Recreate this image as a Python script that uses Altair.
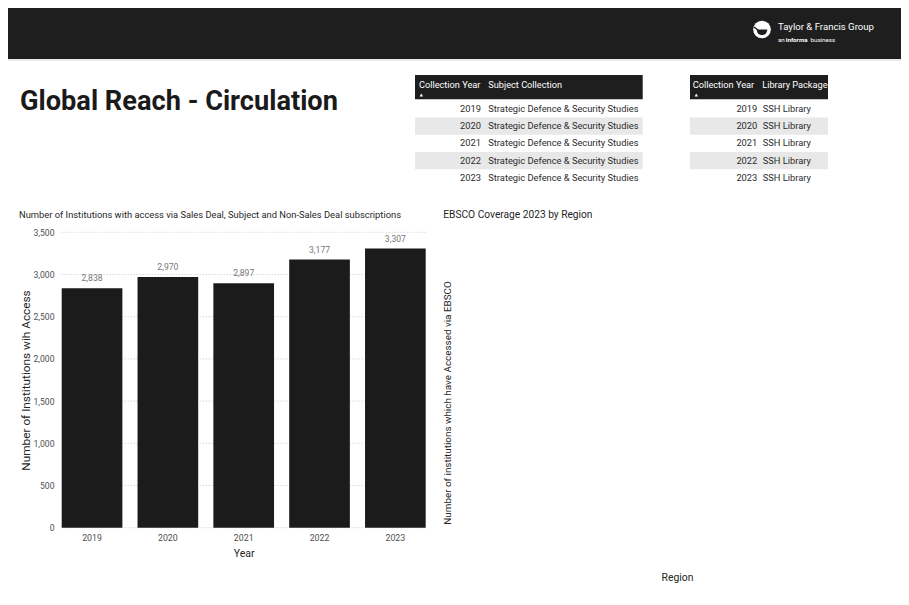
import altair as alt
import pandas as pd

# ---------------- data ----------------
years = [2019, 2020, 2021, 2022, 2023]
institutions = [2838, 2970, 2897, 3177, 3307]
y_ticks = [0, 500, 1000, 1500, 2000, 2500, 3000, 3500]
subject_collection = ["Strategic Defence & Security Studies"] * 5
library_package = ["SSH Library"] * 5

page_title = "Global Reach - Circulation"
brand_name = "Taylor & Francis Group"
brand_sub = ["an", "informa", "business"]
bar_title = "Number of Institutions with access via Sales Deal, Subject and Non-Sales Deal subscriptions"
bar_x_title = "Year"
bar_y_title = "Number of Institutions wih Access"
ebsco_title = "EBSCO Coverage 2023 by Region"
ebsco_y_title = "Number of institutions which have Accessed via EBSCO"
ebsco_x_title = "Region"
table1_cols = ["Collection Year", "Subject Collection"]
table2_cols = ["Collection Year", "Library Package"]

W, H = 893, 580
FONT = "Roboto, Liberation Sans, sans-serif"
DARK = "#1e1e1e"

one = pd.DataFrame({"_": [0]})


def label(text, x, y, size, color="#252525", weight="normal",
          align="left", baseline="middle", angle=0):
    return alt.Chart(one).mark_text(
        align=align, baseline=baseline, fontSize=size, font=FONT,
        fontWeight=weight, color=color, angle=angle
    ).encode(x=alt.value(x), y=alt.value(y), text=alt.value(text))


# ---------------- header band ----------------
header = alt.Chart(one).mark_rect(color=DARK).encode(
    x=alt.value(0), x2=alt.value(W), y=alt.value(0), y2=alt.value(51))
header_line = alt.Chart(one).mark_rule(color="#d4d4d4", strokeWidth=1).encode(
    x=alt.value(0), x2=alt.value(W), y=alt.value(52))
logo_circle = alt.Chart(one).mark_circle(color="white", size=314, opacity=1).encode(
    x=alt.value(754), y=alt.value(21.5))
logo_bowl = alt.Chart(one).mark_point(
    shape="M -0.75 -0.15 L 0.75 -0.15 C 0.7 0.5 0.35 0.65 0 0.65 C -0.35 0.65 -0.7 0.5 -0.75 -0.15 Z",
    filled=True, color=DARK, opacity=1, size=196).encode(x=alt.value(754), y=alt.value(22.5))
logo_spout = alt.Chart(one).mark_rule(color=DARK, strokeWidth=1.5).encode(
    x=alt.value(746), x2=alt.value(750), y=alt.value(19), y2=alt.value(22))

brand = label(brand_name, 770, 22, 9.6, color="white", baseline="alphabetic")
brand_a = label(brand_sub[0], 770, 33.5, 6.2, color="white", baseline="alphabetic")
brand_b = label(brand_sub[1], 777.8, 33.5, 6.2, color="white", weight="bold", baseline="alphabetic")
brand_c = label(brand_sub[2], 802.5, 33.5, 6.2, color="white", baseline="alphabetic")

title = label(page_title, 12, 102, 27.2, color="#1a1a1a", weight="bold", baseline="alphabetic")

# ---------------- tables ----------------
tbl = pd.DataFrame({
    "Collection Year": years,
    "Subject Collection": subject_collection,
    "Library Package": library_package,
})
row_y = alt.Y("Collection Year:O",
              scale=alt.Scale(domain=years, range=[92.2, 178.4], paddingInner=0, paddingOuter=0),
              axis=None)


def stripes(x0, x1):
    return alt.Chart(tbl).mark_rect(color="#e8e8e8").encode(
        x=alt.value(x0), x2=alt.value(x1), y=row_y
    ).transform_filter("datum['Collection Year'] % 2 == 0")


def col_text(field, x, align):
    return alt.Chart(tbl).mark_text(
        align=align, baseline="middle", fontSize=9.3, font=FONT, color="#2b2b2b"
    ).encode(x=alt.value(x), y=row_y, text=alt.Text(f"{field}:N"))


def head(x0, x1, cols, cx):
    rect = alt.Chart(one).mark_rect(color=DARK).encode(
        x=alt.value(x0), x2=alt.value(x1), y=alt.value(67), y2=alt.value(91.3))
    t1 = label(cols[0], cx[0], 76.5, 9.2, color="white")
    t2 = label(cols[1], cx[1], 76.5, 9.2, color="white")
    tri = alt.Chart(one).mark_point(shape="triangle-up", filled=True, color="white",
                                    opacity=1, size=12).encode(
        x=alt.value(x0 + 6.3), y=alt.value(87))
    return [rect, t1, t2, tri]


tables = alt.layer(
    stripes(407, 634.7),
    stripes(682, 820),
    col_text("Collection Year", 473, "right"),
    col_text("Subject Collection", 480.3, "left"),
    col_text("Collection Year", 749.3, "right"),
    col_text("Library Package", 754.7, "left"),
    *head(407, 634.7, table1_cols, [411, 480.3]),
    *head(682, 820, table2_cols, [684.7, 754.2]),
)

# ---------------- bar chart ----------------
bars_df = pd.DataFrame({"Year": years, "Institutions": institutions})
ticks_df = pd.DataFrame({"tick": y_ticks})

x_enc = alt.X(
    "Year:O",
    scale=alt.Scale(range=[53.7, 417.7], paddingInner=0.2, paddingOuter=0),
    axis=alt.Axis(title=bar_x_title, offset=-(H - 519.7), labelAngle=0, domain=False,
                  ticks=False, tickSize=0, grid=False, labelPadding=6,
                  labelFont=FONT, labelFontSize=8.8, labelColor="#4f4f4f",
                  titleFont=FONT, titleFontSize=10.5, titleFontWeight="normal",
                  titleColor="#252525", titleY=25.6, titleBaseline="middle"),
)


def y_enc(field):
    return alt.Y(
        f"{field}:Q",
        scale=alt.Scale(domain=[0, 3500], range=[519.7, 224.3], nice=False),
        axis=alt.Axis(title=bar_y_title, values=y_ticks, format=",.0f", offset=-46,
                      domain=False, ticks=False, tickSize=0, grid=False, labelPadding=0,
                      labelFont=FONT, labelFontSize=8.6, labelColor="#4f4f4f",
                      titleFont=FONT, titleFontSize=11.8, titleFontWeight="normal",
                      titleColor="#252525", titleAngle=270, titleX=-29, titleY=372,
                      titleAlign="center", titleBaseline="middle"),
    )


grid = alt.Chart(ticks_df).mark_rule(color="#c8c8c8", strokeDash=[1, 2], strokeWidth=1).encode(
    y=y_enc("tick"), x=alt.value(53.7), x2=alt.value(417.7))
bars = alt.Chart(bars_df).mark_bar(color="#1b1b1b").encode(x=x_enc, y=y_enc("Institutions"))
bar_labels = alt.Chart(bars_df).mark_text(
    baseline="bottom", dy=-5, fontSize=8.6, font=FONT, color="#777777"
).encode(x=x_enc, y=y_enc("Institutions"), text=alt.Text("Institutions:Q", format=",.0f"))

bar_group = alt.layer(grid, bars, bar_labels)
bar_t = label(bar_title, 11, 207, 9.35, color="#1f1f1f")

# ---------------- EBSCO (empty) ----------------
eb_t = label(ebsco_title, 435.3, 207, 10.2, color="#1f1f1f")
eb_y = label(ebsco_y_title, 440.3, 395, 9.9, align="center", angle=270)
eb_x = label(ebsco_x_title, 669.5, 570.3, 10.4, align="center")

chart = alt.layer(
    header, header_line, logo_circle, logo_bowl, logo_spout,
    brand, brand_a, brand_b, brand_c, title,
    tables, bar_group, bar_t, eb_t, eb_y, eb_x,
).resolve_scale(x="independent", y="independent").properties(
    width=W, height=H, padding=0, autosize="none", background="white"
).configure_view(stroke=None)

chart.save("out.html", embed_options={"renderer": "svg", "actions": False})
